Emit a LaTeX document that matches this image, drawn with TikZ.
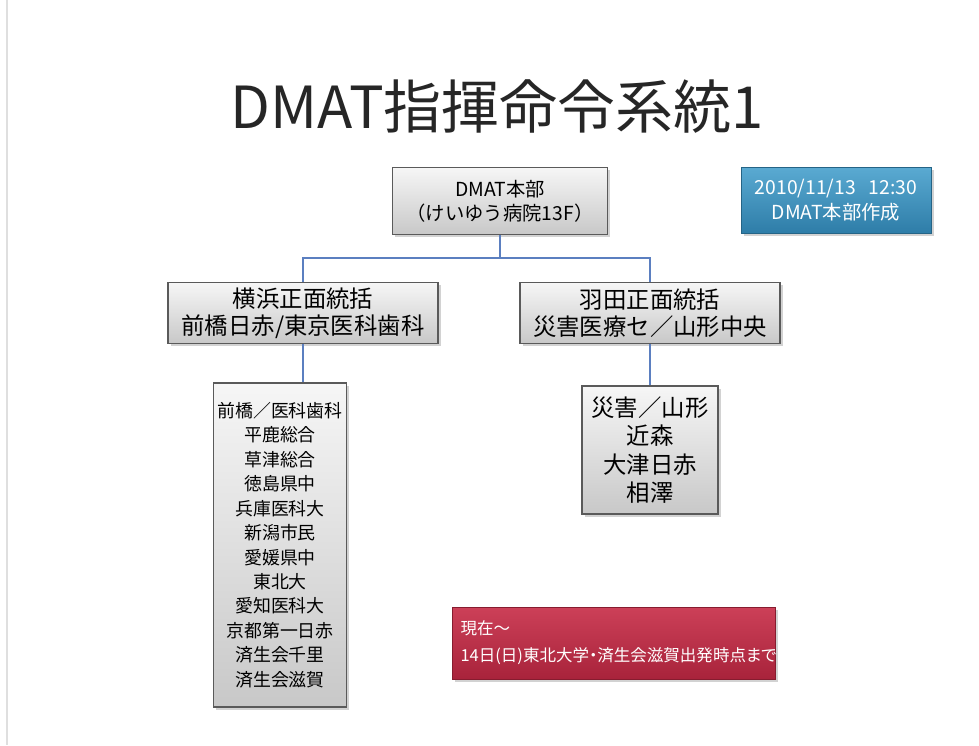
\documentclass[tikz,border=0pt]{standalone}
\usepackage{fontspec}
\setmainfont{Noto Sans CJK JP}
\newfontfamily\notefont[RawFeature=+palt]{Noto Sans CJK JP}
\usepackage{tikz}
\usetikzlibrary{positioning, shadows}
\definecolor{LineBlue}{HTML}{5B7FC0}
\definecolor{BoxEdge}{HTML}{5A5A5A}
\definecolor{BoxTop}{HTML}{F6F6F6}
\definecolor{BoxBottom}{HTML}{C8C8C8}
\definecolor{DateTop}{HTML}{5AAAD2}
\definecolor{DateBottom}{HTML}{2E7DA8}
\definecolor{NoteTop}{HTML}{CC4058}
\definecolor{NoteBottom}{HTML}{A8233B}
\tikzset{
  orgbox/.style={rectangle, draw=BoxEdge, line width=0.8pt, top color=BoxTop, bottom color=BoxBottom, align=center, inner sep=2pt, drop shadow={shadow xshift=1.5pt, shadow yshift=-1.5pt, opacity=0.35}},
  datebox/.style={rectangle, draw=DateBottom!80!black, top color=DateTop, bottom color=DateBottom, text=white, align=center, inner sep=2pt, drop shadow={shadow xshift=1.5pt, shadow yshift=-1.5pt, opacity=0.35}},
  notebox/.style={rectangle, draw=NoteBottom!80!black, top color=NoteTop, bottom color=NoteBottom, text=white, align=left, drop shadow={shadow xshift=1.5pt, shadow yshift=-1.5pt, opacity=0.35}},
  conn/.style={draw=LineBlue, line width=0.9pt}
}

\begin{document}
\begin{tikzpicture}[x=0.02cm, y=-0.02cm]
  \useasboundingbox[fill=white] (0,0) rectangle (979,745);
  \draw[gray!25, line width=0.6pt] (7,0) -- (7,745);

  % Title
  \node[font=\fontsize{33}{37}\selectfont, text=black!85] (title) at (497,107) {DMAT指揮命令系統1};

  % Headquarters and note
  \node[orgbox, minimum width=4.3cm, minimum height=1.34cm, font=\fontsize{11}{13.5}\selectfont] (hq) at (500,201) {DMAT本部\\（けいゆう病院13F）};
  \node[datebox, minimum width=3.8cm, minimum height=1.32cm, font=\fontsize{11}{14.5}\selectfont] (date) at (836,200) {2010/11/13\ \ \ 12:30\\DMAT本部作成};

  % Front commands
  \node[orgbox, minimum width=5.4cm, minimum height=1.22cm, font=\fontsize{13.3}{15.5}\selectfont] (yoko) at (303,313) {横浜正面統括\\前橋日赤/東京医科歯科};
  \node[orgbox, minimum width=5.2cm, minimum height=1.22cm, font=\fontsize{13.3}{15.5}\selectfont] (haneda) at (650,313) {羽田正面統括\\災害医療セ／山形中央};

  % Teams
  \node[orgbox, minimum width=2.6cm, minimum height=6.48cm, font=\fontsize{10.2}{13.9}\selectfont] (yokolist) at (280,545) {前橋／医科歯科\\平鹿総合\\草津総合\\徳島県中\\兵庫医科大\\新潟市民\\愛媛県中\\東北大\\愛知医科大\\京都第一日赤\\済生会千里\\済生会滋賀};
  \node[orgbox, minimum width=2.72cm, minimum height=2.56cm, font=\fontsize{13.3}{16.2}\selectfont] (hanedalist) at (650,450) {災害／山形\\近森\\大津日赤\\相澤};

  % Period
  \node[notebox, text width=6.14cm, inner xsep=0.16cm, minimum height=1.44cm, font=\notefont\fontsize{9.4}{15.5}\selectfont] (now) at (614,643) {現在～\\14日(日)東北大学・済生会滋賀出発時点まで};

  % Connectors
  \draw[conn] (hq.south) -- ++(0,23) -| (yoko.north);
  \draw[conn] (hq.south) -- ++(0,23) -| (haneda.north);
  \draw[conn] (yoko.south) -- (yoko.south |- yokolist.north);
  \draw[conn] (haneda.south) -- (hanedalist.north);
\end{tikzpicture}
\end{document}
